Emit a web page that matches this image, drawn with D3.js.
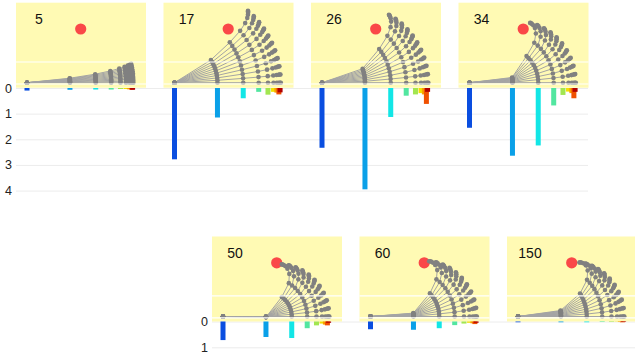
<!DOCTYPE html>
<html>
<head>
<meta charset="utf-8">
<script src="https://cdn.jsdelivr.net/npm/d3@7"></script>
<style>
  body { margin: 0; background: #fff; }
  svg { display: block; font-family: "Liberation Sans", Arial, sans-serif; }
</style>
</head>
<body>
<svg id="chart" width="635" height="357"></svg>
<script>
// Iteration shown in each panel
const steps = [5, 17, 26, 34, 50, 60, 150];

// Link lengths of the 9-link arm (arm units)
const linkLengths = [0.4, 0.24, 0.144, 0.0864, 0.0518, 0.0311, 0.0187, 0.0112, 0.0067];

// Relative joint angles (degrees) of the arm pose at each step
const anglesStep5   = [6, 3, 3, 3, 3, 3, 3, 3, 3];
const anglesStep17  = [32, 11, 5, 9, 11, 10, 8, 6, 4];
const anglesStep26  = [19, 31, 8, 12, 14, 14, 12, 10, 8];
const anglesStep34  = [7, 49, 4, 20, 20, 20, 15, 15, 10];
const anglesStep50  = [-1, 53, 11, 24, 23, 20, 15, 15, 10];
const anglesStep60  = [4.5, 45.5, 15, 20, 27, 23, 15, 15, 10];
const anglesStep150 = [8, 33, 22, 23, 24, 30, 20, 15, 10];
const jointAngles = [anglesStep5, anglesStep17, anglesStep26, anglesStep34,
                     anglesStep50, anglesStep60, anglesStep150];

// Load carried by each joint at each step
const loadStep5   = [0.10, 0.07, 0.06, 0.06, 0.04, 0.04, 0.05, 0.06, 0.07];
const loadStep17  = [2.78, 1.15, 0.40, 0.15, 0.26, 0.15, 0.18, 0.25, 0.17];
const loadStep26  = [2.33, 3.95, 1.13, 0.30, 0.25, 0.20, 0.25, 0.62, 0.15];
const loadStep34  = [1.55, 2.64, 2.24, 0.68, 0.27, 0.14, 0.20, 0.40, 0.15];
const loadStep50  = [0.72, 0.60, 0.64, 0.26, 0.15, 0.08, 0.12, 0.15, 0.05];
const loadStep60  = [0.30, 0.32, 0.26, 0.14, 0.08, 0.05, 0.07, 0.10, 0.05];
const loadStep150 = [0.03, 0.03, 0.03, 0.02, 0.02, 0.01, 0.02, 0.03, 0.02];
const jointLoads = [loadStep5, loadStep17, loadStep26, loadStep34,
                    loadStep50, loadStep60, loadStep150];

// Target point the arm reaches for (arm units)
const target = [0.5, 0.5];

// Blend levels between the rest pose and the current pose
const blendLevels = [0, 0.1, 0.2, 0.3, 0.4, 0.5, 0.6, 0.7, 0.8, 0.9, 1];

// Tick values of the load axes
const loadTicksTop = [0, 1, 2, 3, 4];
const loadTicksBottom = [0, 1];

// One colour per joint, base to tip
const jointColors = ["#0a4ee0", "#0aa0e8", "#12e6e6", "#52e6a0", "#a2e650",
                     "#f2e000", "#f8a000", "#f05000", "#b00000"];

const svg = d3.select("#chart");

// Panel layout
const panelW = 130, panelH = 85, colStep = 147.5;
const rows = [
  { y0: 2.7, xStart: 16, zero: 88, one: 25.65, ticks: loadTicksTop, gridEnd: 588 },
  { y0: 236.5, xStart: 212, zero: 321.5, one: 25.8, ticks: loadTicksBottom, gridEnd: 635 }
];
const armPx = 107.4;     // pixels per arm unit
const armBase = [11, 80]; // base of the arm inside a panel
const panelRules = [59.3, 81.3];

// Load axes with gridlines
rows.forEach(r => {
  const top = r.ticks[r.ticks.length - 1];
  const y = d3.scaleLinear().domain([0, top]).range([r.zero, r.zero + top * r.one]);
  const g = svg.append("g").attr("transform", `translate(${r.xStart},0)`)
    .call(d3.axisLeft(y).tickValues(r.ticks).tickFormat(d3.format("d"))
      .tickSize(-(r.gridEnd - r.xStart)).tickPadding(4));
  g.select(".domain").remove();
  g.selectAll(".tick line").attr("stroke", "#ececec");
  g.selectAll(".tick text").attr("fill", "#222").attr("font-size", 12.5)
    .attr("font-family", "'Liberation Sans', Arial, sans-serif");
  r.y = y;
});

// Joint positions along the straight arm
const restX = [];
linkLengths.reduce((acc, l) => { restX.push(acc); return acc + l; }, 0);

function armPoints(rel, b) {
  let a = 0, x = 0, y = 0;
  const pts = [[0, 0]];
  rel.forEach((deg, j) => {
    a += b * deg * Math.PI / 180;
    x += linkLengths[j] * Math.cos(a);
    y += linkLengths[j] * Math.sin(a);
    pts.push([x, y]);
  });
  return pts;
}

steps.forEach((step, i) => {
  const r = i < 4 ? rows[0] : rows[1];
  const col = i < 4 ? i : i - 4;
  const x0 = r.xStart + col * colStep;
  const y0 = r.y0;

  const ax = d3.scaleLinear().domain([0, 1]).range([x0 + armBase[0], x0 + armBase[0] + armPx]);
  const ay = d3.scaleLinear().domain([0, 1]).range([y0 + armBase[1], y0 + armBase[1] - armPx]);

  const p = svg.append("g");
  p.append("rect").attr("x", x0).attr("y", y0).attr("width", panelW).attr("height", panelH)
    .attr("fill", "#fffab4");

  p.append("text").attr("x", x0 + 23).attr("y", y0 + 21.5).attr("text-anchor", "middle")
    .attr("font-size", 14).attr("fill", "#111").text(step);

  p.append("circle").attr("cx", ax(target[0])).attr("cy", ay(target[1])).attr("r", 5.6)
    .attr("fill", "#fa4848");

  const poses = blendLevels.map(b => armPoints(jointAngles[i], b));
  const line = d3.line().x(d => ax(d[0])).y(d => ay(d[1]));

  p.selectAll("path.link").data(poses).join("path")
    .attr("class", "link").attr("d", line)
    .attr("fill", "none").attr("stroke", "#a4a4a4").attr("stroke-width", 1);

  p.selectAll("circle.joint").data(poses.flat()).join("circle")
    .attr("class", "joint").attr("cx", d => ax(d[0])).attr("cy", d => ay(d[1]))
    .attr("r", 2.3).attr("fill", "#808080");

  panelRules.forEach(ry => {
    p.append("line").attr("x1", x0).attr("x2", x0 + panelW)
      .attr("y1", y0 + ry).attr("y2", y0 + ry)
      .attr("stroke", "#fff").attr("stroke-width", 1.2);
  });

  // Joint loads as bars hanging below the panel
  p.selectAll("rect.load").data(jointLoads[i]).join("rect")
    .attr("class", "load")
    .attr("x", (d, j) => ax(restX[j]) - 2.5)
    .attr("y", r.y(0))
    .attr("width", 5)
    .attr("height", d => r.y(d) - r.y(0))
    .attr("fill", (d, j) => jointColors[j]);
});
</script>
</body>
</html>
